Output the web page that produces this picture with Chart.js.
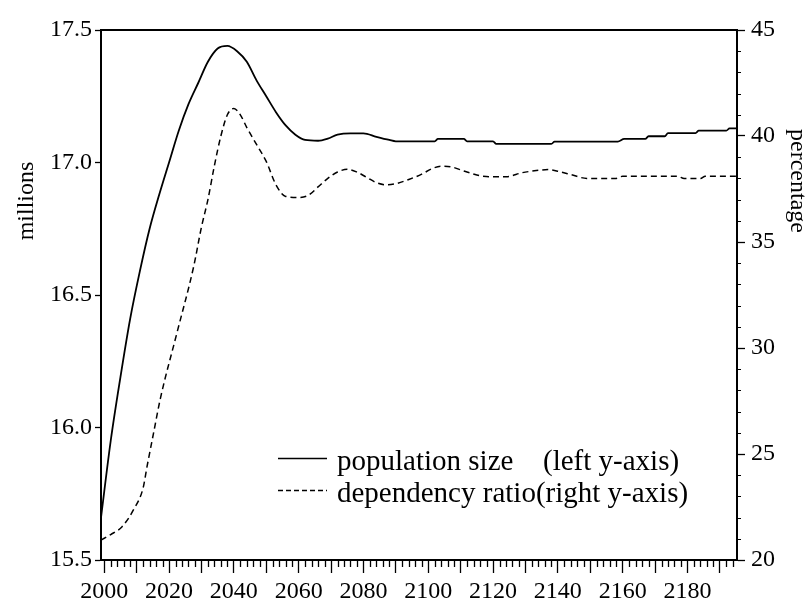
<!DOCTYPE html>
<html>
<head>
<meta charset="utf-8">
<script src="https://cdn.jsdelivr.net/npm/chart.js@4.4.1/dist/chart.umd.min.js"></script>
<style>
  html, body { margin: 0; padding: 0; background: #ffffff; }
  #wrap { width: 809px; height: 606px; }
</style>
</head>
<body>
<div id="wrap"><canvas id="c" width="809" height="606"></canvas></div>
<script>
// ---- data ----
const popYears  = [1999, 2002, 2005, 2008, 2011, 2014, 2017, 2020, 2023, 2026, 2029, 2032, 2035, 2038, 2041, 2044, 2047, 2050, 2053, 2056, 2059, 2062, 2066, 2069, 2072, 2076, 2080, 2084, 2088, 2090, 2102, 2103, 2111, 2112, 2120, 2121, 2138, 2139, 2158.5, 2160.5, 2167, 2168, 2173, 2174, 2182.5, 2183.5, 2192, 2193, 2195.3];
const popValues = [15.66, 15.95, 16.19, 16.41, 16.59, 16.75, 16.88, 17.00, 17.12, 17.22, 17.30, 17.38, 17.43, 17.44, 17.42, 17.38, 17.31, 17.25, 17.19, 17.14, 17.105, 17.085, 17.082, 17.09, 17.105, 17.11, 17.11, 17.097, 17.085, 17.08, 17.08, 17.089, 17.089, 17.08, 17.08, 17.07, 17.07, 17.079, 17.079, 17.089, 17.089, 17.099, 17.099, 17.111, 17.111, 17.12, 17.12, 17.129, 17.129];

const depYears  = [1999, 2002, 2005.5, 2009, 2012, 2013.2, 2015.2, 2017.3, 2022.4, 2027.6, 2030, 2032, 2034, 2036, 2038, 2040, 2042, 2044, 2047, 2050, 2053, 2056, 2060, 2063, 2066, 2069, 2072, 2075, 2078, 2081, 2084, 2087, 2090, 2094, 2098, 2101, 2104, 2107, 2111, 2115, 2119, 2124, 2129, 2134, 2137, 2141, 2144, 2149, 2158, 2160, 2177, 2179, 2184, 2185.5, 2195.3];
const depValues = [20.94, 21.2, 21.57, 22.36, 23.4, 24.4, 25.97, 27.6, 30.69, 33.84, 35.7, 37.0, 38.6, 40.0, 41.0, 41.3, 41.0, 40.4, 39.6, 38.8, 37.7, 37.15, 37.1, 37.2, 37.6, 38.0, 38.3, 38.43, 38.3, 38.05, 37.8, 37.7, 37.75, 37.95, 38.2, 38.45, 38.58, 38.55, 38.35, 38.16, 38.08, 38.08, 38.27, 38.38, 38.42, 38.3, 38.18, 38.0, 38.0, 38.1, 38.1, 37.99, 37.99, 38.1, 38.1];

const xTickYears = [];
for (let y = 2000; y <= 2194; y += 2) xTickYears.push(y);
const leftTicks  = [15.5, 16.0, 16.5, 17.0, 17.5];
const rightTicks = [20, 25, 30, 35, 40, 45];
const rightMinor = [21,22,23,24,26,27,28,29,31,32,33,34,36,37,38,39,41,42,43,44];

const leftTitle  = 'millions';
const rightTitle = 'percentage';
const legendRows = [
  { text: 'population size', note: '(left y-axis)', dash: [] },
  { text: 'dependency ratio(right y-axis)', note: '', dash: [5, 3] }
];

const FONT = '"Liberation Serif", "Times New Roman", serif';

const framePlugin = {
  id: 'frame',
  afterDraw(chart) {
    const ctx = chart.ctx;
    const a = chart.chartArea;
    const xs = chart.scales.x, yr = chart.scales.y1;
    ctx.save();
    ctx.strokeStyle = '#000';
    // top frame line
    ctx.lineWidth = 2;
    ctx.beginPath();
    ctx.moveTo(a.left - 1, a.top);
    ctx.lineTo(a.right + 1, a.top);
    ctx.stroke();
    // short x ticks
    ctx.lineWidth = 1.3;
    xTickYears.forEach(v => {
      if (v % 10 === 0) return;
      const px = Math.round(xs.getPixelForValue(v)) + 0.5;
      ctx.beginPath();
      ctx.moveTo(px, a.bottom);
      ctx.lineTo(px, a.bottom + 7);
      ctx.stroke();
    });
    // right minor ticks
    ctx.lineWidth = 1;
    rightMinor.forEach(v => {
      const py = Math.round(yr.getPixelForValue(v)) + 0.5;
      ctx.beginPath();
      ctx.moveTo(a.right, py);
      ctx.lineTo(a.right + 4, py);
      ctx.stroke();
    });
    // axis titles
    ctx.fillStyle = '#000';
    ctx.font = '24px ' + FONT;
    ctx.textAlign = 'center';
    ctx.textBaseline = 'alphabetic';
    ctx.save();
    ctx.translate(33, 201);
    ctx.rotate(-Math.PI / 2);
    ctx.fillText(leftTitle, 0, 0);
    ctx.restore();
    ctx.save();
    ctx.translate(791, 181);
    ctx.rotate(Math.PI / 2);
    ctx.fillText(rightTitle, 0, 0);
    ctx.restore();
    // legend
    ctx.font = '29px ' + FONT;
    ctx.textAlign = 'left';
    const rowsY = [470, 502];
    legendRows.forEach((r, i) => {
      const by = rowsY[i];
      ctx.lineWidth = 1.3;
      ctx.setLineDash(r.dash);
      ctx.beginPath();
      ctx.moveTo(278, by - 11.5);
      ctx.lineTo(327, by - 11.5);
      ctx.stroke();
      ctx.setLineDash([]);
      ctx.fillText(r.text, 337, by);
      if (r.note) ctx.fillText(r.note, 543, by);
    });
    ctx.restore();
  }
};

new Chart(document.getElementById('c'), {
  type: 'line',
  data: {
    datasets: [
      {
        label: 'population size',
        data: popYears.map((x, i) => ({ x: x, y: popValues[i] })),
        yAxisID: 'y',
        borderColor: '#000',
        borderWidth: 1.8,
        pointRadius: 0,
        fill: false,
        cubicInterpolationMode: 'monotone'
      },
      {
        label: 'dependency ratio',
        data: depYears.map((x, i) => ({ x: x, y: depValues[i] })),
        yAxisID: 'y1',
        borderColor: '#000',
        borderWidth: 1.5,
        borderDash: [6, 4],
        pointRadius: 0,
        fill: false,
        cubicInterpolationMode: 'monotone'
      }
    ]
  },
  options: {
    responsive: false,
    animation: false,
    events: [],
    layout: { padding: { top: 30, left: 0, right: 0, bottom: 0 } },
    plugins: { legend: { display: false }, tooltip: { enabled: false } },
    scales: {
      x: {
        type: 'linear',
        position: 'bottom',
        min: 1999,
        max: 2195.3,
        afterBuildTicks: s => { s.ticks = xTickYears.map(v => ({ value: v })); },
        afterFit: s => { s.height = 46; },
        grid: {
          drawOnChartArea: false,
          tickLength: 13,
          tickWidth: 1.3,
          tickColor: c => (c.tick && c.tick.value % 10 === 0) ? '#000' : 'rgba(0,0,0,0)'
        },
        border: { color: '#000', width: 2 },
        ticks: {
          autoSkip: false,
          maxRotation: 0,
          minRotation: 0,
          padding: 4,
          color: '#000',
          font: { family: FONT, size: 24 },
          callback: v => (v % 20 === 0 ? String(v) : '')
        }
      },
      y: {
        position: 'left',
        min: 15.5,
        max: 17.5,
        afterBuildTicks: s => { s.ticks = leftTicks.map(v => ({ value: v })); },
        afterFit: s => { s.width = 101; },
        grid: { drawOnChartArea: false, tickLength: 6, tickWidth: 1.3, tickColor: '#000' },
        border: { color: '#000', width: 2 },
        ticks: {
          padding: 3,
          color: '#000',
          font: { family: FONT, size: 24 },
          callback: v => v.toFixed(1)
        }
      },
      y1: {
        position: 'right',
        min: 20,
        max: 45,
        afterBuildTicks: s => { s.ticks = rightTicks.map(v => ({ value: v })); },
        afterFit: s => { s.width = 72; },
        grid: { drawOnChartArea: false, tickLength: 8, tickWidth: 1.3, tickColor: '#000' },
        border: { color: '#000', width: 2 },
        ticks: {
          padding: 6,
          color: '#000',
          font: { family: FONT, size: 24 },
          callback: v => String(v)
        }
      }
    }
  },
  plugins: [framePlugin]
});
</script>
</body>
</html>
